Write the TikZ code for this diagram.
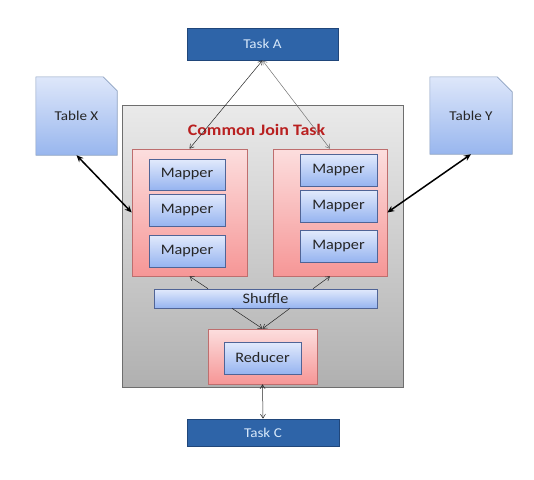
\documentclass[tikz,border=0pt]{standalone}
\usepackage{fontspec}
\setmainfont[FakeStretch=1.12]{Carlito}
\usetikzlibrary{arrows.meta,shadows}
\definecolor{taskfill}{RGB}{46,100,168}
\definecolor{taskline}{RGB}{32,70,122}
\definecolor{tasktext}{RGB}{215,232,250}
\definecolor{bluetop}{RGB}{226,234,252}
\definecolor{bluebot}{RGB}{150,180,240}
\definecolor{blueline}{RGB}{80,100,150}
\definecolor{doctop}{RGB}{222,231,250}
\definecolor{docbot}{RGB}{152,182,238}
\definecolor{docline}{RGB}{140,160,192}
\definecolor{pinktop}{RGB}{252,222,222}
\definecolor{pinkbot}{RGB}{246,150,150}
\definecolor{pinkline}{RGB}{190,110,110}
\definecolor{graytop}{RGB}{234,234,234}
\definecolor{graybot}{RGB}{176,176,176}
\definecolor{grayline}{RGB}{110,110,110}
\definecolor{titlered}{RGB}{185,32,32}
\pgfdeclarelayer{bg}
\pgfsetlayers{bg,main}
\tikzset{
  taskbox/.style={rectangle, draw=taskline, line width=0.8pt, fill=taskfill,
    text=tasktext, font=\fontsize{13.5}{16}\selectfont, inner sep=0pt},
  bluebox/.style={rectangle, draw=blueline, line width=0.6pt, top color=bluetop,
    bottom color=bluebot, text=black!85, font=\fontsize{14.5}{17}\selectfont, inner sep=0pt,
    drop shadow={opacity=0.35, shadow xshift=0.8pt, shadow yshift=-0.8pt}},
  pinkbox/.style={rectangle, draw=pinkline, line width=0.6pt, top color=pinktop,
    bottom color=pinkbot, inner sep=0pt},
  graybox/.style={rectangle, draw=grayline, line width=0.9pt, top color=graytop,
    bottom color=graybot, inner sep=0pt},
  docshape/.style={draw=docline, line width=0.6pt, top color=doctop, bottom color=docbot},
  doctext/.style={rectangle, inner sep=0pt, text=black!85, font=\fontsize{13.5}{16}\selectfont},
  thinarrow/.style={{Straight Barb[length=4pt,width=5pt]}-{Straight Barb[length=4pt,width=5pt]}, line width=0.5pt},
  onearrow/.style={-{Straight Barb[length=4pt,width=5pt]}, line width=0.5pt, draw=black!85},
  thickarrow/.style={{Stealth[length=7pt,width=6pt]}-{Stealth[length=7pt,width=6pt]}, line width=1.5pt},
}
\begin{document}
\begin{tikzpicture}[x=1pt,y=-1pt]
\useasboundingbox (0,0) rectangle (534,479);
% big gray container
\node[graybox, minimum width=281pt, minimum height=282pt] (common) at (262.5,246) {};
\node[text=titlered, font=\bfseries\fontsize{16}{19}\selectfont, inner sep=0pt] (title) at (256.5,130) {Common Join Task};
% pink map groups
\node[pinkbox, minimum width=115pt, minimum height=127pt] (lpink) at (189.5,212.5) {};
\node[pinkbox, minimum width=114pt, minimum height=127pt] (rpink) at (330,212.5) {};
% mappers
\node[bluebox, minimum width=76pt, minimum height=31pt] (lm1) at (187,174.5) {Mapper};
\node[bluebox, minimum width=76pt, minimum height=32pt] (lm2) at (187,210) {Mapper};
\node[bluebox, minimum width=76pt, minimum height=32pt] (lm3) at (187,251) {Mapper};
\node[bluebox, minimum width=77pt, minimum height=32pt] (rm1) at (338.5,170) {Mapper};
\node[bluebox, minimum width=77pt, minimum height=32pt] (rm2) at (338.5,206) {Mapper};
\node[bluebox, minimum width=77pt, minimum height=32pt] (rm3) at (338.5,246) {Mapper};
% shuffle
\node[bluebox, minimum width=223pt, minimum height=19pt] (shuffle) at (265.5,298.5) {Shuffle};
% reducer
\node[pinkbox, minimum width=109pt, minimum height=55pt] (redbox) at (262.5,356.5) {};
\node[bluebox, minimum width=77pt, minimum height=32pt] (reducer) at (262.5,358) {Reducer};
% tables
\node[doctext, minimum width=81pt, minimum height=78pt] (tabx) at (76.5,116) {Table X};
\node[doctext, minimum width=82pt, minimum height=77pt] (taby) at (471,115.5) {Table Y};
\begin{pgfonlayer}{bg}
\path[docshape] (tabx.south west) -- (tabx.north west) -- ([xshift=-14pt]tabx.north east)
  -- ([yshift=-14pt]tabx.north east) -- (tabx.south east) -- cycle;
\path[docshape] (taby.south west) -- (taby.north west) -- ([xshift=-15pt]taby.north east)
  -- ([yshift=-15pt]taby.north east) -- (taby.south east) -- cycle;
\end{pgfonlayer}
% tasks
\node[taskbox, minimum width=151pt, minimum height=32pt] (taskA) at (262.5,44) {Task A};
\node[taskbox, minimum width=152pt, minimum height=27pt] (taskC) at (263,432.5) {Task C};
% connectors
\draw[thinarrow, draw=black!85] (taskA.south) -- (lpink.north);
\draw[thinarrow, draw=black!55] (taskA.south) -- (rpink.north);
\draw[thickarrow] (tabx.south) -- (lpink.west);
\draw[thickarrow] (taby.south) -- (rpink.east);
\draw[onearrow] ([xshift=-57.5pt]shuffle.north) -- (lpink.south);
\draw[onearrow] ([xshift=47.5pt]shuffle.north) -- (rpink.south);
\draw[onearrow] ([xshift=-33.5pt]shuffle.south) -- (redbox.north);
\draw[onearrow] ([xshift=24.5pt]shuffle.south) -- (redbox.north);
\draw[thinarrow, draw=black!85] (redbox.south) -- (taskC.north);
\end{tikzpicture}
\end{document}
